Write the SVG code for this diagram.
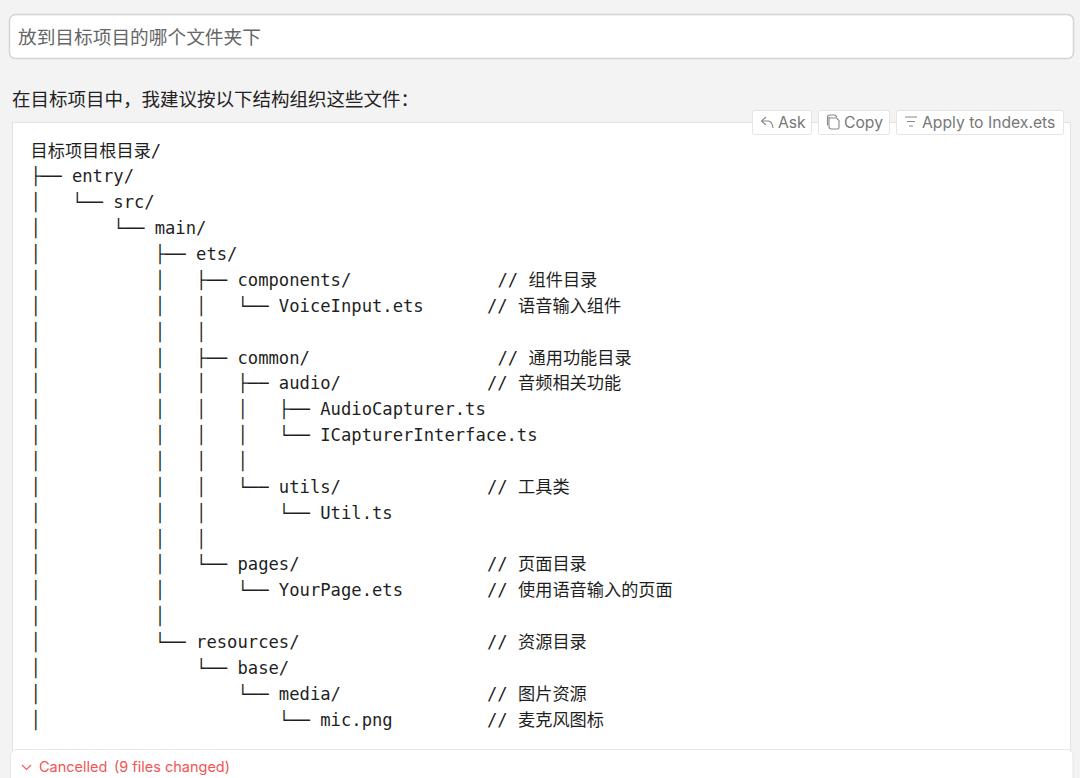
<svg xmlns="http://www.w3.org/2000/svg" width="1080" height="778" viewBox="0 0 1080 778">
<style>
.m{font-family:"DejaVu Sans Mono","Noto Sans CJK SC",monospace;font-size:17.2px;fill:#1f1f1f;white-space:pre}
.c{font-family:"Noto Sans CJK SC","Noto Sans",sans-serif;}
.b{font-family:"Inter","Noto Sans",sans-serif;font-size:15.7px;fill:#777}
.btn{fill:#fff;stroke:#e4e4e4;stroke-width:1}
.i{fill:none;stroke:#888;stroke-width:1.1}
.r{font-family:"Inter","Noto Sans",sans-serif;font-size:14.5px;fill:#f25555}
</style>
<rect width="1080" height="778" fill="#f3f3f3"/>
<g id="prompt-input">
<rect x="9.500" y="14.500" width="1064" height="44" rx="6" fill="#fff" stroke="#d4d4d4" stroke-width="1.500"/>
<text class="c" x="18" y="43.500" font-size="18.700" fill="#666">放到目标项目的哪个文件夹下</text>
</g>
<g id="intro">
<text class="c" x="12" y="106" font-size="18.500" fill="#222">在目标项目中，我建议按以下结构组织这些文件：</text>
</g>
<g id="code-card">
<rect x="12.500" y="122.500" width="1058" height="640" fill="#fff" stroke="#e2e2e2"/>
<g id="tree">
<text class="m" x="30.500" y="156.500">目标项目根目录/</text>
<text class="m" x="30.500" y="182.400">├── entry/</text>
<text class="m" x="30.500" y="208.300">│   └── src/</text>
<text class="m" x="30.500" y="234.100">│       └── main/</text>
<text class="m" x="30.500" y="260">│           ├── ets/</text>
<text class="m" x="30.500" y="285.900">│           │   ├── components/</text>
<text class="m" x="30.500" y="311.700">│           │   │   └── VoiceInput.ets</text>
<text class="m" x="30.500" y="337.600">│           │   │</text>
<text class="m" x="30.500" y="363.500">│           │   ├── common/</text>
<text class="m" x="30.500" y="389.300">│           │   │   ├── audio/</text>
<text class="m" x="30.500" y="415.200">│           │   │   │   ├── AudioCapturer.ts</text>
<text class="m" x="30.500" y="441.100">│           │   │   │   └── ICapturerInterface.ts</text>
<text class="m" x="30.500" y="466.900">│           │   │   │</text>
<text class="m" x="30.500" y="492.800">│           │   │   └── utils/</text>
<text class="m" x="30.500" y="518.700">│           │   │       └── Util.ts</text>
<text class="m" x="30.500" y="544.500">│           │   │</text>
<text class="m" x="30.500" y="570.400">│           │   └── pages/</text>
<text class="m" x="30.500" y="596.300">│           │       └── YourPage.ets</text>
<text class="m" x="30.500" y="622.100">│           │</text>
<text class="m" x="30.500" y="648">│           └── resources/</text>
<text class="m" x="30.500" y="673.900">│               └── base/</text>
<text class="m" x="30.500" y="699.700">│                   └── media/</text>
<text class="m" x="30.500" y="725.600">│                       └── mic.png</text>
</g>
<g id="comments">
<text class="m" x="497.500" y="285.900">// 组件目录</text>
<text class="m" x="487" y="311.700">// 语音输入组件</text>
<text class="m" x="497.500" y="363.500">// 通用功能目录</text>
<text class="m" x="487" y="389.300">// 音频相关功能</text>
<text class="m" x="487" y="492.800">// 工具类</text>
<text class="m" x="487" y="570.400">// 页面目录</text>
<text class="m" x="487" y="596.300">// 使用语音输入的页面</text>
<text class="m" x="487" y="648">// 资源目录</text>
<text class="m" x="487" y="699.700">// 图片资源</text>
<text class="m" x="487" y="725.600">// 麦克风图标</text>
</g>
</g>
<g id="btn-ask">
<rect class="btn" x="752.500" y="110.500" width="59" height="24" rx="2"/>
<path class="i" d="M766 117l-4.500 4 4.500 4M762 121h6q4 0 5 7"/>
<text class="b" x="778" y="127.500">Ask</text>
</g>
<g id="btn-copy">
<rect class="btn" x="818.500" y="110.500" width="71" height="24" rx="2"/>
<path class="i" d="M829 118v8.500q0 2.500 2.500 2.500h6q1.500 0 1.500-1.500v-7l-2.500-2.500zM829 118v-1M827.500 125.500v-8q0-2.500 2.500-2.500h5l2 2"/>
<text class="b" x="844" y="127.500">Copy</text>
</g>
<g id="btn-apply">
<rect class="btn" x="896.500" y="110.500" width="167" height="24" rx="2"/>
<path class="i" d="M905 117h12M907 121.500h8M909 126h4"/>
<text class="b" x="922" y="127.500">Apply to Index.ets</text>
</g>
<g id="status-bar">
<rect x="10.500" y="749.500" width="1062.500" height="42" rx="6" fill="#fff" stroke="#e6e6e6"/>
<path d="M22 765l4.500 4.500 4.500-4.500" fill="none" stroke="#f26060" stroke-width="1.200"/>
<text class="r" x="39" y="772">Cancelled</text>
<text class="r" x="114" y="772">(9 files changed)</text>
</g>
</svg>
